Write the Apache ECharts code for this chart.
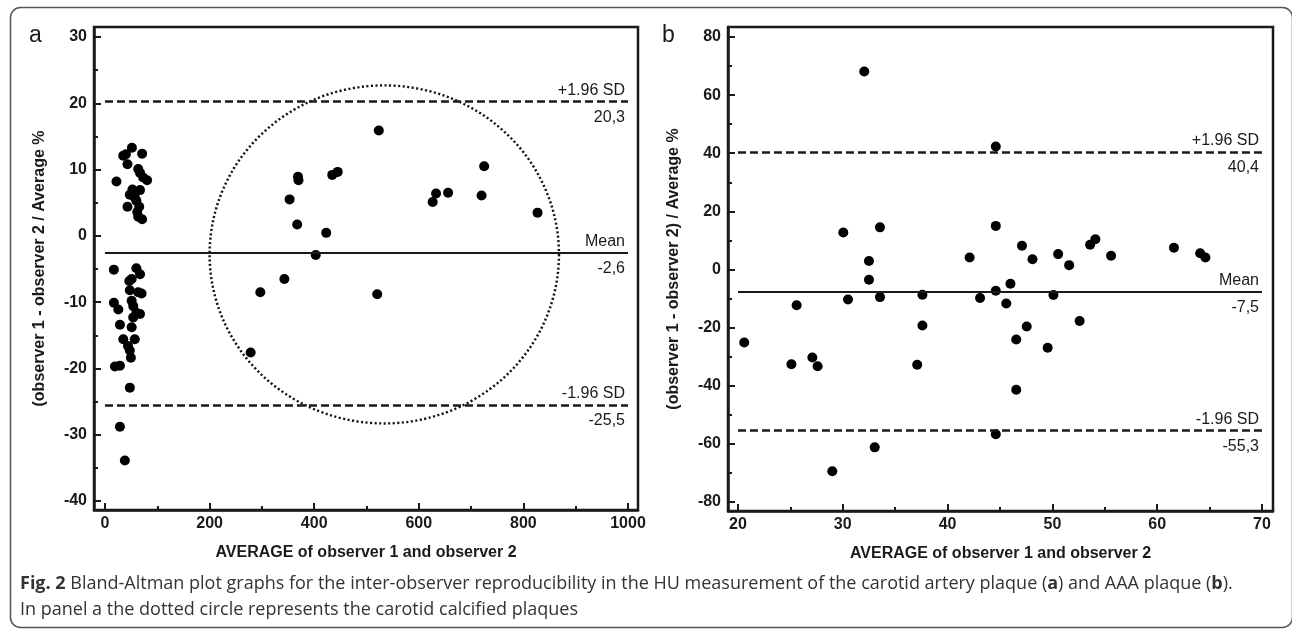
<!DOCTYPE html>
<html>
<head>
<meta charset="utf-8">
<script src="https://cdn.jsdelivr.net/npm/echarts@6/dist/echarts.min.js"></script>
<style>
html,body{margin:0;padding:0;background:#fff;}
#chart{width:1292px;height:630px;}
</style>
</head>
<body>
<div id="chart"></div>
<script>
// ---------- Panel a (carotid plaque) ----------
const pointsA = [
  // non-calcified cluster, upper
  [22,8.2],[35,12.1],[40,12.3],[43,10.8],[51.5,13.3],[71,12.4],[63.5,10.1],[67,9.5],[73,8.8],[80.5,8.4],
  [52.5,7.0],[67,6.9],[47.5,6.2],[57,5.8],[60,5.3],[43,4.4],[65.5,4.4],[63.5,2.9],[71,2.5],[61.7,3.6],
  // non-calcified cluster, lower
  [17,-5.1],[60,-4.9],[67,-5.8],[51,-6.5],[46.5,-6.8],[47.5,-8.2],[63.5,-8.5],[70,-8.7],[17,-10.1],[25.5,-11.1],
  [51,-9.8],[54,-10.6],[60,-11.6],[67,-11.8],[54,-12.3],[28.6,-13.4],[51,-13.8],[35,-15.6],[57,-15.6],[44,-16.6],
  [47.5,-17.3],[49.5,-18.4],[19,-19.7],[28.6,-19.6],[47.5,-22.9],[28.6,-28.8],[38,-33.9],
  // calcified plaques (inside circle)
  [278.5,-17.6],[297,-8.5],[343,-6.5],[353,5.5],[367.5,1.7],[369,8.9],[370,8.4],[403,-2.9],[423,0.45],
  [434.5,9.2],[445,9.65],[520.5,-8.8],[523.5,15.9],[626.5,5.1],[633,6.4],[656,6.5],[720,6.1],[725,10.5],[827,3.5]
];
const refA = {upper:20.3, mean:-2.6, lower:-25.5};
const refLabelsA = {upper:['+1.96 SD','20,3'], mean:['Mean','-2,6'], lower:['-1.96 SD','-25,5']};
const circleA = [534, -2.8, 334, 25.5]; // centre x, centre y, radius x, radius y (data units)
const xTicksA = [0,200,400,600,800,1000];
const xMinorA = [100,300,500,700,900];
const yTicksA = [-40,-30,-20,-10,0,10,20,30];
const yMinorA = [-35,-25,-15,-5,5,15,25];
const xRangeA = [-21, 1019.1];
const yRangeA = [-41.36, 31.51];
const refSpanA = [0, 1000];

// ---------- Panel b (AAA plaque) ----------
const pointsB = [
  [20.6,-25.1],[25.1,-32.6],[25.6,-12.3],[27.1,-30.3],[27.6,-33.3],[29.0,-69.4],[30.05,12.7],[30.5,-10.3],
  [32.05,68.1],[32.5,2.9],[32.5,-3.5],[33.05,-61.2],[33.55,14.5],[33.55,-9.5],[37.1,-32.8],[37.6,-8.7],
  [37.6,-19.3],[42.1,4.1],[43.1,-9.8],[44.6,42.3],[44.6,15.0],[44.6,-7.3],[44.6,-56.7],[45.6,-11.7],
  [46.0,-4.9],[46.55,-24.1],[46.55,-41.4],[47.1,8.2],[47.55,-19.6],[48.1,3.5],[49.55,-26.9],[50.1,-8.8],
  [50.55,5.3],[51.6,1.5],[52.6,-17.7],[53.6,8.5],[54.1,10.4],[55.6,4.7],[61.6,7.5],[64.1,5.6],[64.6,4.1]
];
const refB = {upper:40.4, mean:-7.5, lower:-55.3};
const refLabelsB = {upper:['+1.96 SD','40,4'], mean:['Mean','-7,5'], lower:['-1.96 SD','-55,3']};
const xTicksB = [20,30,40,50,60,70];
const xMinorB = [25,35,45,55,65];
const yTicksB = [-80,-60,-40,-20,0,20,40,60,80];
const yMinorB = [-70,-50,-30,-10,10,30,50,70];
const xRangeB = [19.05, 71.05];
const yRangeB = [-83.1, 83.44];
const refSpanB = [20, 70];

const xNameText = 'AVERAGE of observer 1 and observer 2';
const yNameA = '(observer 1 - observer 2 / Average %';
const yNameB = '(observer 1 - observer 2) / Average %';
const captionLine1 = '{b|Fig. 2} Bland-Altman plot graphs for the inter-observer reproducibility in the HU measurement of the carotid artery plaque ({b|a}) and AAA plaque ({b|b}).';
const captionLine2 = 'In panel a the dotted circle represents the carotid calcified plaques';

// ---------- styling ----------
const FONT = 'Arial, Liberation Sans, sans-serif';
const CAPFONT = 'Open Sans, sans-serif';
const INK = '#1a1a1a';
const plain = v => String(v);

function mainX(gi, range, ticks, name){
  return {
    type:'value', gridIndex:gi, min:range[0], max:range[1], position:'bottom',
    name:name, nameLocation:'middle', nameGap:35,
    nameTextStyle:{fontFamily:FONT, fontSize:16, fontWeight:'bold', color:INK},
    axisLine:{show:true, onZero:false, lineStyle:{color:INK, width:2.5}},
    axisTick:{show:true, inside:true, length:7, customValues:ticks, lineStyle:{color:INK, width:2}},
    axisLabel:{show:true, customValues:ticks, formatter:plain, margin:6, fontFamily:FONT, fontSize:16, fontWeight:'bold', color:INK},
    splitLine:{show:false}
  };
}
function minorX(gi, range, ticks){
  return {
    type:'value', gridIndex:gi, min:range[0], max:range[1], position:'bottom',
    axisLine:{show:false, onZero:false},
    axisTick:{show:true, inside:true, length:4, customValues:ticks, lineStyle:{color:INK, width:2}},
    axisLabel:{show:false}, splitLine:{show:false}
  };
}
function mainY(gi, range, ticks, name){
  return {
    type:'value', gridIndex:gi, min:range[0], max:range[1], position:'left',
    name:name, nameLocation:'middle', nameGap:46, nameRotate:90,
    nameTextStyle:{fontFamily:FONT, fontSize:16, fontWeight:'bold', color:INK},
    axisLine:{show:true, onZero:false, lineStyle:{color:INK, width:2.5}},
    axisTick:{show:true, inside:true, length:7, customValues:ticks, lineStyle:{color:INK, width:2}},
    axisLabel:{show:true, customValues:ticks, formatter:plain, margin:7, fontFamily:FONT, fontSize:16, fontWeight:'bold', color:INK},
    splitLine:{show:false}
  };
}
function minorY(gi, range, ticks){
  return {
    type:'value', gridIndex:gi, min:range[0], max:range[1], position:'left',
    axisLine:{show:false, onZero:false},
    axisTick:{show:true, inside:true, length:4, customValues:ticks, lineStyle:{color:INK, width:2}},
    axisLabel:{show:false}, splitLine:{show:false}
  };
}

function refLines(ref, labels, span){
  const lbl = {fontFamily:FONT, fontSize:16, color:INK};
  const mk = (y, txt, pos, dashed, visible) => [
    {coord:[span[0], y],
     lineStyle:{type: dashed ? [8,4] : 'solid', width: visible ? (dashed ? 2.5 : 2.2) : 0, color: visible ? INK : 'rgba(0,0,0,0)'},
     label:{show:true, position:pos, formatter:txt, distance:[3, visible ? 3 : 8], ...lbl}},
    {coord:[span[1], y]}
  ];
  return {
    silent:true, symbol:['none','none'], animation:false,
    data:[
      mk(ref.upper, labels.upper[0], 'insideEndTop', true, true),
      mk(ref.upper, labels.upper[1], 'insideEndBottom', true, false),
      mk(ref.mean, labels.mean[0], 'insideEndTop', false, true),
      mk(ref.mean, labels.mean[1], 'insideEndBottom', false, false),
      mk(ref.lower, labels.lower[0], 'insideEndTop', true, true),
      mk(ref.lower, labels.lower[1], 'insideEndBottom', true, false)
    ]
  };
}

const chart = echarts.init(document.getElementById('chart'), null, {renderer:'canvas'});
chart.setOption({
  animation:false,
  backgroundColor:'#fff',
  grid:[
    {left:94, top:27, width:544, height:483, show:true, borderColor:INK, borderWidth:2.5, containLabel:false},
    {left:728, top:27, width:545, height:484, show:true, borderColor:INK, borderWidth:2.5, containLabel:false}
  ],
  xAxis:[
    mainX(0, xRangeA, xTicksA, xNameText), minorX(0, xRangeA, xMinorA),
    mainX(1, xRangeB, xTicksB, xNameText), minorX(1, xRangeB, xMinorB)
  ],
  yAxis:[
    mainY(0, yRangeA, yTicksA, yNameA), minorY(0, yRangeA, yMinorA),
    mainY(1, yRangeB, yTicksB, yNameB), minorY(1, yRangeB, yMinorB)
  ],
  series:[
    {type:'scatter', xAxisIndex:0, yAxisIndex:0, data:pointsA, symbol:'circle', symbolSize:10,
     itemStyle:{color:'#000', opacity:1}, markLine:refLines(refA, refLabelsA, refSpanA), z:3},
    {type:'custom', xAxisIndex:0, yAxisIndex:0, data:[circleA], silent:true, z:2,
     renderItem:function(params, api){
       const c = api.coord([api.value(0), api.value(1)]);
       const s = api.size([api.value(2), api.value(3)]);
       return {type:'circle', x:c[0], y:c[1], scaleX:s[0]/s[1], scaleY:1,
               shape:{cx:0, cy:0, r:s[1]},
               style:{fill:'none', stroke:'#111', lineWidth:2.4, lineDash:[2,2.4]}};
     }},
    {type:'scatter', xAxisIndex:2, yAxisIndex:2, data:pointsB, symbol:'circle', symbolSize:10,
     itemStyle:{color:'#000', opacity:1}, markLine:refLines(refB, refLabelsB, refSpanB), z:3}
  ],
  graphic:[
    {type:'rect', shape:{x:10.5, y:7.5, width:1282, height:620, r:10}, silent:true, z:-1,
     style:{fill:'none', stroke:'#555', lineWidth:1.5}},
    {type:'text', left:29, top:24, style:{text:'a', fontFamily:FONT, fontSize:23, fill:INK}},
    {type:'text', left:662, top:24, style:{text:'b', fontFamily:FONT, fontSize:23, fill:INK}},
    {type:'text', left:20, top:575, style:{text:captionLine1, fontFamily:CAPFONT, fontSize:18, fill:'#333',
      rich:{b:{fontFamily:CAPFONT, fontSize:18, fontWeight:'bold', fill:'#333'}}}},
    {type:'text', left:20, top:601, style:{text:captionLine2, fontFamily:CAPFONT, fontSize:18, fill:'#333'}}
  ]
});
</script>
</body>
</html>
